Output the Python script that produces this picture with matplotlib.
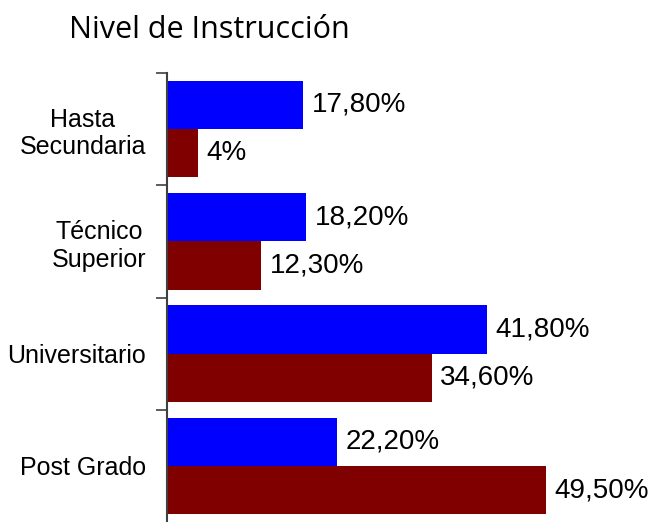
import matplotlib.pyplot as plt
import numpy as np

categories = ["Hasta\nSecundaria", "Técnico\nSuperior", "Universitario", "Post Grado"]
serie_a = [17.8, 18.2, 41.8, 22.2]
serie_b = [4.0, 12.3, 34.6, 49.5]
labels_a = ["17,80%", "18,20%", "41,80%", "22,20%"]
labels_b = ["4%", "12,30%", "34,60%", "49,50%"]

BLUE = "#0000ff"
RED = "#800000"

fig = plt.figure(figsize=(6.52, 5.22), dpi=100)
ax = fig.add_axes([167 / 652, 0.0, 1 - 167 / 652, 1 - 73 / 522])

y = np.arange(len(categories))
h = 0.43
ax.barh(y - h / 2, serie_a, height=h, color=BLUE)
ax.barh(y + h / 2, serie_b, height=h, color=RED)

for yi, v, lab in zip(y, serie_a, labels_a):
    ax.text(v + 1.1, yi - h / 2, lab, va="center", ha="left",
            fontsize=20, family="Liberation Sans")
for yi, v, lab in zip(y, serie_b, labels_b):
    ax.text(v + 1.1, yi + h / 2, lab, va="center", ha="left",
            fontsize=20, family="Liberation Sans")

ax.set_xlim(0, 63.4)
ax.set_ylim(len(categories) - 0.5, -0.5)

# boundary ticks (major) and centered labels (minor)
ax.set_yticks(np.arange(len(categories)) - 0.5)
ax.set_yticklabels([])
ax.tick_params(axis="y", which="major", length=8, width=1.2, color="#404040")
ax.set_yticks(y, minor=True)
ax.set_yticklabels(categories, minor=True, fontsize=18,
                   family="Liberation Sans", multialignment="center")
ax.tick_params(axis="y", which="minor", length=0, pad=15)

ax.set_xticks([])
for side in ["top", "right", "bottom"]:
    ax.spines[side].set_visible(False)
ax.spines["left"].set_color("#404040")
ax.spines["left"].set_linewidth(1.5)

fig.text(209 / 652, 1 - 30 / 522, "Nivel de Instrucción", ha="center", va="center",
         fontsize=22, family="Open Sans")

fig.savefig("out.png", dpi=100)
